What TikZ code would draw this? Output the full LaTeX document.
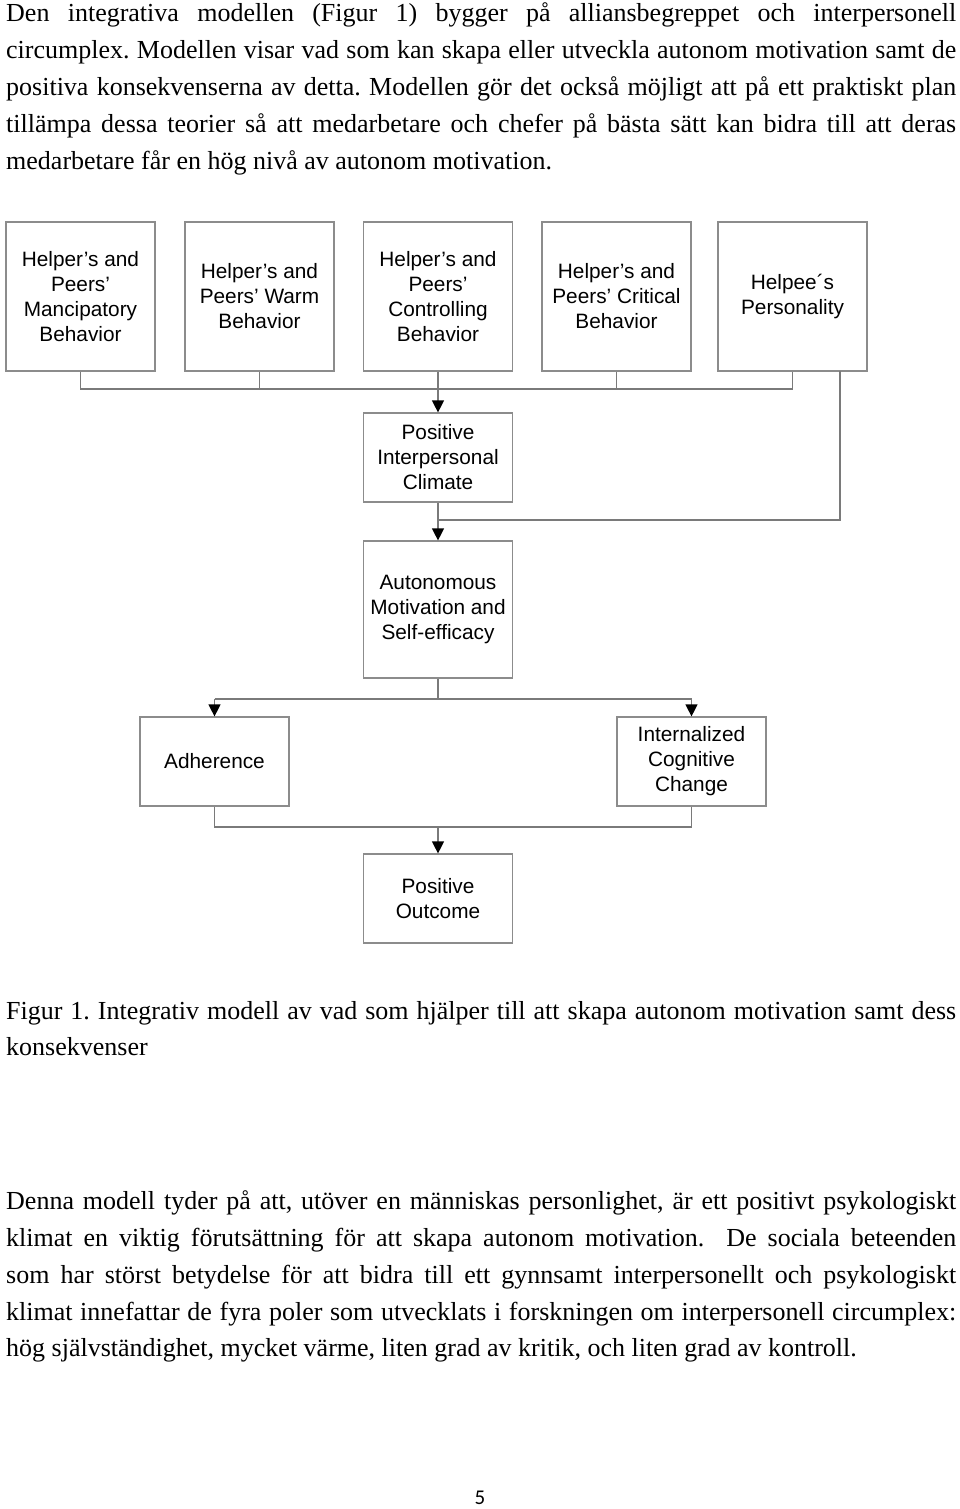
\documentclass[tikz,border=0pt]{standalone}
\usepackage{fontspec}
\setmainfont{Liberation Serif}
\newfontfamily\boxsans{Liberation Sans}
\newfontfamily\pagesans{Carlito}
\usetikzlibrary{arrows.meta}
\definecolor{boxgray}{HTML}{8C8C8C}
\definecolor{linegray}{HTML}{7A7A7A}
\newcommand{\jline}[1]{\makebox[950pt][s]{#1}}
\begin{document}
\frenchspacing
\begin{tikzpicture}[x=1pt,y=-1pt,
  bodytext/.style={anchor=base west, inner sep=0pt, font=\fontsize{26}{37}\selectfont},
  box/.style={draw=boxgray, line width=1.2pt, fill=white, align=center, inner sep=0pt,
    font=\boxsans\fontsize{20.8}{25}\selectfont, minimum width=149pt},
  tallbox/.style={box, minimum height=149pt},
  midbox/.style={box, minimum height=89pt},
  autobox/.style={box, minimum height=137pt},
  conn/.style={draw=linegray, line width=1.2pt},
  arr/.style={conn, -{Triangle[width=12pt,length=12pt,color=black]}},
]
\useasboundingbox (0,0) rectangle (960,1509);

% top paragraph
\node[bodytext] (t1) at (6,21.5) {\jline{Den integrativa modellen (Figur 1) bygger på alliansbegreppet och interpersonell}};
\node[bodytext] (t2) at (6,58.5) {\jline{circumplex. Modellen visar vad som kan skapa eller utveckla autonom motivation samt de}};
\node[bodytext] (t3) at (6,95.5) {\jline{positiva konsekvenserna av detta. Modellen gör det också möjligt att på ett praktiskt plan}};
\node[bodytext] (t4) at (6,132.5) {\jline{tillämpa dessa teorier så att medarbetare och chefer på bästa sätt kan bidra till att deras}};
\node[bodytext] (t5) at (6,169.5) {medarbetare får en hög nivå av autonom motivation.};

% diagram boxes
\node[tallbox] (h1) at (80.5,296.5) {Helper’s and\\Peers’\\Mancipatory\\Behavior};
\node[tallbox] (h2) at (259.5,296.5) {Helper’s and\\Peers’ Warm\\Behavior};
\node[tallbox] (h3) at (438,296.5) {Helper’s and\\Peers’\\Controlling\\Behavior};
\node[tallbox] (h4) at (616.5,296.5) {Helper’s and\\Peers’ Critical\\Behavior};
\node[tallbox] (h5) at (792.5,296.5) {Helpee´s\\Personality};
\node[midbox] (pic) at (438,457.5) {Positive\\Interpersonal\\Climate};
\node[autobox] (auto) at (438,609.5) {Autonomous\\Motivation and\\Self-efficacy};
\node[midbox] (adh) at (214.5,761.5) {Adherence};
\node[midbox] (int) at (691.5,761.5) {Internalized\\Cognitive\\Change};
\node[midbox] (out) at (438,898.5) {Positive\\Outcome};

% connectors
\coordinate (bus1) at (0,389);
\coordinate (join) at (0,520);
\coordinate (bus2) at (0,699);
\coordinate (bus3) at (0,827);
\coordinate (h5b) at (840,371);

\draw[conn] (h1.south) -- (h1.south |- bus1) -- (h5.south |- bus1) -- (h5.south);
\draw[conn] (h2.south) -- (h2.south |- bus1);
\draw[conn] (h4.south) -- (h4.south |- bus1);
\draw[arr] (h3.south) -- (pic.north);
\draw[conn] (h5b) -- (h5b |- join) -- (pic.south |- join);
\draw[arr] (pic.south) -- (auto.north);

\draw[conn] (auto.south) -- (auto.south |- bus2);
\draw[conn] (adh.north |- bus2) -- (int.north |- bus2);
\draw[arr] (adh.north |- bus2) -- (adh.north);
\draw[arr] (int.north |- bus2) -- (int.north);

\draw[conn] (adh.south) -- (adh.south |- bus3) -- (int.south |- bus3) -- (int.south);
\draw[arr] (out.north |- bus3) -- (out.north);

% caption
\node[bodytext] (c1) at (6,1019) {\jline{Figur 1. Integrativ modell av vad som hjälper till att skapa autonom motivation samt dess}};
\node[bodytext] (c2) at (6,1055) {konsekvenser};

% body paragraph
\node[bodytext] (b1) at (6,1209) {\jline{Denna modell tyder på att, utöver en människas personlighet, är ett positivt psykologiskt}};
\node[bodytext] (b2) at (6,1246) {\jline{klimat en viktig förutsättning för att skapa autonom motivation.\ \ De sociala beteenden}};
\node[bodytext] (b3) at (6,1283) {\jline{som har störst betydelse för att bidra till ett gynnsamt interpersonellt och psykologiskt}};
\node[bodytext] (b4) at (6,1320) {\jline{klimat innefattar de fyra poler som utvecklats i forskningen om interpersonell circumplex:}};
\node[bodytext] (b5) at (6,1356) {hög självständighet, mycket värme, liten grad av kritik, och liten grad av kontroll.};

% page number
\node[anchor=base, inner sep=0pt, font=\pagesans\fontsize{21}{25}\selectfont] (pg) at (480,1504) {5};
\end{tikzpicture}
\end{document}
